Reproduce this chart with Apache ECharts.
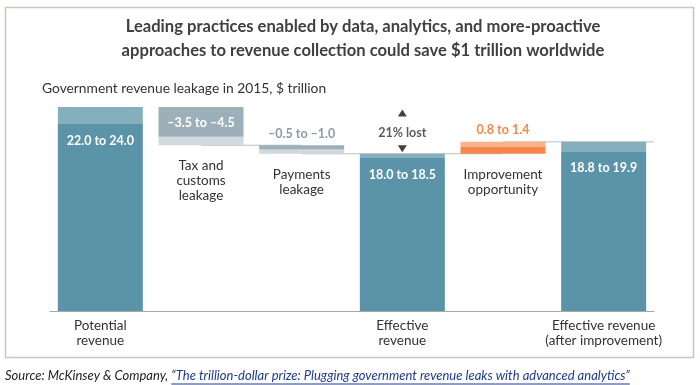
<!DOCTYPE html>
<html>
<head>
<meta charset="utf-8">
<script src="https://cdn.jsdelivr.net/npm/echarts@6/dist/echarts.min.js"></script>
<style>
  html, body { margin: 0; padding: 0; background: #ffffff; }
  #chart { width: 700px; height: 385px; }
</style>
</head>
<body>
<div id="chart"></div>
<script>
// ---------------- data ----------------
const categories = ['Potential\nrevenue', 'Tax and\ncustoms\nleakage', 'Payments\nleakage',
                    'Effective\nrevenue', 'Improvement\nopportunity', 'Effective revenue\n(after improvement)'];
const kinds = ['total', 'delta', 'delta', 'total', 'delta', 'total'];
const lowValues = [22.0, -3.5, -0.5, 18.0, 0.8, 18.8];
const highValues = [24.0, -4.5, -1.0, 18.5, 1.4, 19.9];
const valueLabels = ['22.0 to 24.0', '\u20133.5 to \u20134.5', '\u20130.5 to \u20131.0',
                     '18.0 to 18.5', '0.8 to 1.4', '18.8 to 19.9'];
const lostLabel = '21% lost';
const lostFrom = 0;   // index of bar whose top is the arrow start
const lostTo = 3;     // index of bar whose top is the arrow end
const titleText = 'Leading practices enabled by data, analytics, and more-proactive\napproaches to revenue collection could save $1 trillion worldwide';
const subtitleText = 'Government revenue leakage in 2015, $ trillion';
const sourcePrefix = 'Source: McKinsey & Company, ';
const sourceLink = '\u201CThe trillion-dollar prize: Plugging government revenue leaks with advanced analytics\u201D';

// ---------------- styles ----------------
const FONT = 'Lato';
const C = {
  tealDark: '#5b93a8', tealLight: '#86afbe',
  grayDark: '#9dafb8', grayLight: '#cfd9de',
  orange: '#f5874a', orangeLight: '#f9b28b',
  text: '#333333', title: '#404040'
};

// ---------------- waterfall build ----------------
const base = [], lower = [], upper = [], connectors = [];
const tops = [];
let level = 0;
for (let i = 0; i < categories.length; i++) {
  const lo = lowValues[i], hi = highValues[i];
  let b, l, u, lc, uc, labelOn, labelCfg;
  if (kinds[i] === 'total') {
    b = 0; l = lo; u = hi - lo; lc = C.tealDark; uc = C.tealLight;
    labelOn = 'lower';
    labelCfg = { show: true, position: 'insideTop', distance: 10, color: '#ffffff', fontWeight: 'bold' };
    level = hi;
    tops.push(hi);
  } else if (hi < 0) {
    tops.push(level);
    b = level + hi; l = lo - hi; u = -lo; lc = C.grayLight; uc = C.grayDark;
    level = level + hi;
    labelOn = 'upper';
    if (-lo >= 2) labelCfg = { show: true, position: 'inside', color: '#ffffff', fontWeight: 'bold', offset: [0, 1] };
    else labelCfg = { show: true, position: 'top', distance: 5, color: '#8e9ba2', fontWeight: 'bold' };
  } else {
    b = level; l = lo; u = hi - lo; lc = C.orange; uc = C.orangeLight;
    level = level + hi;
    tops.push(level);
    labelOn = 'upper';
    labelCfg = { show: true, position: 'top', distance: 5, color: '#f5874a', fontWeight: 'bold' };
  }
  const lbl = Object.assign({ formatter: valueLabels[i], fontFamily: FONT, fontSize: 12.5 }, labelCfg);
  base.push({ value: b, label: kinds[i] === 'delta'
      ? { show: true, position: 'insideTop', distance: 13, formatter: categories[i], color: C.text,
          fontFamily: FONT, fontSize: 13.5, lineHeight: 15 }
      : { show: false } });
  lower.push({ value: l, itemStyle: { color: lc }, label: labelOn === 'lower' ? lbl : { show: false } });
  upper.push({ value: u, itemStyle: { color: uc }, label: labelOn === 'upper' ? lbl : { show: false } });
  if (i >= 1) {
    const endX = i + 1 < categories.length ? i + 1 : i + 0.5;
    connectors.push([i, level], [endX, level], [null, null]);
  }
}
const arrowData = [
  { value: [lostTo, tops[lostFrom]], symbol: 'triangle', symbolSize: [9, 7], symbolOffset: [0, 6] },
  { value: [lostTo, tops[lostTo]], symbol: 'triangle', symbolRotate: 180, symbolSize: [9, 7], symbolOffset: [0, -5] },
  { value: [lostTo, (tops[lostFrom] + tops[lostTo]) / 2], symbolSize: 0,
    label: { show: true, position: 'inside', formatter: lostLabel, color: '#333', fontFamily: FONT,
             fontSize: 12.5, fontWeight: 'bold', offset: [0, 3] } }
];

// ---------------- chart ----------------
const chart = echarts.init(document.getElementById('chart'), null, { renderer: 'canvas' });

const measure = (() => {
  const cv = document.createElement('canvas').getContext('2d');
  return (txt, font) => { cv.font = font; return cv.measureText(txt).width; };
})();
const srcFont = 'italic 13px ' + FONT;
const prefixW = measure(sourcePrefix, srcFont);
const linkW = measure(sourceLink, srcFont);

chart.setOption({
  animation: false,
  title: [{
    text: titleText, left: 358, top: 10, textAlign: 'center',
    textStyle: { fontFamily: FONT, fontSize: 16.6, fontWeight: 'bold', color: C.title, lineHeight: 24 }
  }, {
    text: subtitleText, left: 37, top: 77,
    textStyle: { fontFamily: FONT, fontSize: 13.8, fontWeight: 'normal', color: '#333' }
  }],
  grid: { left: 50, right: 46, top: 56, bottom: 74 },
  xAxis: [{
    type: 'category', data: categories,
    axisLine: { lineStyle: { color: '#a9a9a9', width: 1 } },
    axisTick: { show: false },
    axisLabel: {
      interval: 0, margin: 7, color: C.text, fontFamily: FONT, fontSize: 13.5, lineHeight: 15,
      formatter: (v, idx) => kinds[idx] === 'total' ? v : ''
    }
  }, {
    type: 'value', min: -0.5, max: 5.5, show: false
  }],
  yAxis: { type: 'value', min: 0, max: 30, show: false },
  series: [
    { type: 'line', xAxisIndex: 1, data: connectors, symbol: 'none', connectNulls: false,
      lineStyle: { color: '#bdbdbd', width: 1 }, z: 1, silent: true },
    { type: 'bar', stack: 'w', data: base, barWidth: 85, itemStyle: { color: 'transparent' }, z: 2 },
    { type: 'bar', stack: 'w', data: lower, barWidth: 85, z: 2 },
    { type: 'bar', stack: 'w', data: upper, barWidth: 85, z: 2 },
    { type: 'scatter', xAxisIndex: 1, data: arrowData, itemStyle: { color: '#111' }, z: 5 }
  ],
  graphic: [
    { type: 'rect', shape: { x: 5.5, y: 7.5, width: 688, height: 350 },
      style: { fill: 'none', stroke: '#cdc4be', lineWidth: 1.5 }, z: -1 },
    { type: 'text', left: 5, top: 369,
      style: { text: sourcePrefix, font: srcFont, fill: '#222' } },
    { type: 'text', left: 5 + prefixW, top: 369,
      style: { text: sourceLink, font: srcFont, fill: '#1f3a8a' } },
    { type: 'rect', shape: { x: 5 + prefixW, y: 383.5, width: linkW, height: 1 },
      style: { fill: '#1f3a8a' } }
  ]
});
</script>
</body>
</html>
